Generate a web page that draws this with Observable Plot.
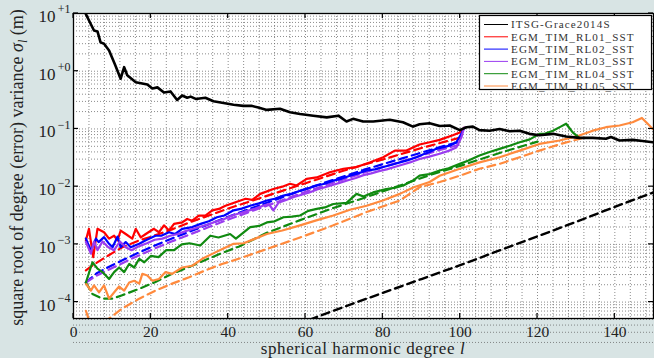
<!DOCTYPE html>
<html><head><meta charset="utf-8">
<script src="https://cdn.jsdelivr.net/npm/d3@7"></script>
<script src="https://cdn.jsdelivr.net/npm/@observablehq/plot@0.6"></script>
<style>
html,body{margin:0;padding:0;background:#d8e4e4;overflow:hidden}
#chart svg{display:block}
</style></head><body><div id="chart"></div>
<script>
// degree l, log10(sigma_l [m])
const itsgSolid = [[2.5,1.1],[3.2,0.99],[4.3,0.84],[5.3,0.705],[6.2,0.69],[7.0,0.50],[7.9,0.475],[9.2,0.36],[10.7,0.12],[12.2,-0.13],[13.1,0.07],[13.9,-0.07],[16.1,-0.19],[19.1,-0.23],[20.4,-0.30],[21.7,-0.28],[23.4,-0.37],[25.1,-0.35],[26.8,-0.50],[28.1,-0.42],[29.4,-0.46],[30.3,-0.44],[31.6,-0.48],[34.1,-0.46],[36.2,-0.52],[38.8,-0.55],[41.4,-0.58],[43.9,-0.60],[46,-0.60],[47.8,-0.63],[50,-0.67],[53.4,-0.65],[56,-0.71],[58.6,-0.74],[62,-0.77],[65.5,-0.80],[68.5,-0.77],[70.6,-0.87],[72.3,-0.825],[74.9,-0.87],[77.5,-0.87],[81.8,-0.84],[85.2,-0.885],[87.8,-0.96],[89.5,-0.92],[92.1,-0.90],[94.7,-0.95],[97.3,-0.94],[99.9,-1.02],[101.6,-0.97],[103.3,-0.96],[105,-1.02],[107.6,-1.03],[110.2,-1.0],[112.8,-1.04],[115.4,-1.03],[117.9,-1.085],[120.5,-1.11],[124,-1.085],[127.4,-1.13],[130.8,-1.155],[134.3,-1.155],[137.7,-1.17],[139,-1.14],[141.2,-1.2],[144.6,-1.19],[147.2,-1.21],[149.8,-1.23]];
const itsgDashed = [[58,-4.40],[62,-4.28],[70,-4.08],[80,-3.84],[90,-3.60],[100,-3.36],[110,-3.11],[120,-2.86],[130,-2.61],[140,-2.35],[150,-2.10]];

const rl01Solid = [[3.2,-2.93],[4.0,-2.73],[5.1,-3.22],[6.2,-2.73],[7.9,-2.79],[9.2,-2.90],[10.5,-2.85],[11.4,-2.93],[12.2,-2.76],[13.5,-2.82],[15.2,-2.90],[16.1,-2.73],[17.4,-2.88],[18.7,-2.82],[20.8,-2.73],[22.1,-2.79],[23.4,-2.67],[24.7,-2.76],[26,-2.645],[28.1,-2.62],[29.4,-2.56],[30.7,-2.59],[32.4,-2.50],[34.1,-2.50],[35.9,-2.41],[37.6,-2.385],[39.3,-2.33],[41.9,-2.27],[44.5,-2.21],[46.2,-2.23],[48.3,-2.125],[51.7,-2.04],[54,-2.0],[56,-1.95],[57.7,-1.98],[60.3,-1.865],[62.9,-1.84],[66.3,-1.75],[69.8,-1.69],[73.2,-1.66],[76.6,-1.58],[80.1,-1.49],[83.1,-1.375],[86.1,-1.375],[89.5,-1.27],[92.1,-1.23],[94.7,-1.19],[98.1,-1.11],[99.9,-1.06],[101,-0.98]];
const rl01Dashed = [[3.2,-3.45],[5,-3.36],[8.3,-3.22],[12.6,-3.05],[17,-2.93],[20,-2.87],[25.5,-2.74],[30,-2.62],[35,-2.50],[40,-2.38],[45,-2.27],[50,-2.16],[55,-2.05],[60,-1.94],[65,-1.83],[70,-1.72],[75,-1.62],[80,-1.53],[85,-1.43],[90,-1.33],[95,-1.24],[100,-1.15]];

const rl02Solid = [[3.2,-2.90],[4.5,-3.11],[5.8,-2.90],[6.5,-2.96],[7.9,-2.875],[9.2,-2.99],[10.1,-3.05],[11.4,-2.865],[12.2,-3.05],[13.5,-2.96],[14.8,-3.05],[17,-2.99],[18.7,-2.93],[21.2,-2.85],[22.7,-2.85],[24.7,-2.79],[26.3,-2.82],[28.1,-2.73],[30.7,-2.70],[32.9,-2.645],[35,-2.6],[37.1,-2.53],[39,-2.50],[41.4,-2.41],[43.5,-2.38],[45.7,-2.33],[48,-2.29],[50,-2.24],[52,-2.21],[54.3,-2.155],[56.5,-2.12],[58.6,-2.07],[60.7,-2.03],[62.9,-1.98],[65,-1.95],[67.2,-1.895],[69.4,-1.86],[71.5,-1.81],[73.6,-1.77],[75.8,-1.72],[78,-1.70],[80.1,-1.66],[82.3,-1.62],[84.4,-1.58],[86.5,-1.54],[88.7,-1.49],[90.5,-1.44],[92.1,-1.40],[93.8,-1.345],[95.5,-1.32],[97.3,-1.29],[99,-1.23],[100.3,-1.085],[101,-0.98]];
const rl02Dashed = [[3.2,-3.66],[6,-3.50],[10,-3.36],[15,-3.20],[20,-3.05],[25,-2.91],[30,-2.78],[35,-2.65],[40,-2.52],[45,-2.40],[50,-2.28],[55,-2.16],[60,-2.04],[65,-1.93],[70,-1.82],[75,-1.71],[80,-1.61],[85,-1.51],[90,-1.41],[95,-1.31],[100,-1.22]];

const rl03Solid = [[3.2,-2.96],[4.5,-3.16],[5.3,-2.95],[6.2,-3.1],[7.5,-2.95],[9,-3.05],[10.5,-3.1],[12,-2.95],[13.5,-3.05],[15,-3.1],[17,-3.03],[19,-2.98],[21,-2.92],[23,-2.90],[25,-2.85],[27,-2.82],[29,-2.77],[31,-2.73],[33,-2.69],[35,-2.65],[37,-2.60],[39,-2.56],[41,-2.50],[43,-2.46],[45,-2.42],[47,-2.38],[49,-2.33],[50.5,-2.30],[51.7,-2.41],[53,-2.28],[55,-2.23],[57,-2.18],[59,-2.14],[61,-2.10],[63,-2.05],[65,-2.01],[67,-1.97],[69,-1.93],[71,-1.89],[73,-1.85],[75,-1.80],[77,-1.77],[79,-1.73],[81,-1.70],[83,-1.66],[85,-1.62],[87,-1.58],[89.5,-1.52],[92,-1.48],[94.7,-1.43],[97,-1.38],[99,-1.32],[100.3,-1.15],[101,-0.98]];
const rl03Dashed = [[3.2,-3.66],[6,-3.54],[10,-3.41],[15,-3.25],[20,-3.10],[25,-2.96],[30,-2.83],[35,-2.70],[40,-2.57],[45,-2.45],[50,-2.33],[55,-2.21],[60,-2.09],[65,-1.98],[70,-1.87],[75,-1.76],[80,-1.66],[85,-1.56],[90,-1.46],[95,-1.36],[100,-1.27]];

const rl04Solid = [[3.2,-3.66],[4.9,-3.31],[6.2,-3.42],[7.5,-3.48],[9.2,-3.60],[10.5,-3.48],[11.8,-3.40],[13.1,-3.48],[14.4,-3.34],[15.7,-3.40],[17,-3.25],[18.3,-3.31],[20,-3.2],[22,-3.22],[24,-3.1],[26,-3.1],[28,-3.0],[30,-2.98],[32.8,-3.02],[35.4,-2.85],[37.5,-2.88],[40.5,-2.82],[42,-2.9],[45.7,-2.70],[48,-2.68],[50,-2.62],[52,-2.60],[54.3,-2.53],[56.5,-2.52],[58.6,-2.50],[60.7,-2.42],[62.9,-2.385],[65,-2.36],[67.2,-2.30],[70.6,-2.28],[73.2,-2.125],[75,-2.17],[77.5,-2.10],[80.9,-2.04],[83,-2.02],[85.3,-1.98],[87.8,-1.895],[89.5,-1.81],[92.1,-1.78],[94.7,-1.72],[97,-1.68],[99.9,-1.605],[102,-1.55],[105,-1.46],[107.6,-1.40],[110.2,-1.345],[112.8,-1.29],[115.4,-1.23],[118,-1.18],[120.5,-1.085],[122,-1.08],[124,-1.03],[126,-0.96],[127.4,-0.91],[128.2,-0.98],[129.1,-1.06],[130.8,-1.155]];
const rl04Dashed = [[3.2,-3.66],[4.9,-3.86],[7.5,-3.94],[10.1,-3.94],[12.6,-3.88],[17,-3.77],[21.2,-3.65],[25.5,-3.51],[29.9,-3.39],[34.1,-3.27],[38.4,-3.15],[42.7,-3.04],[50,-2.80],[58.6,-2.58],[67.2,-2.37],[75.8,-2.18],[84.4,-1.98],[92.1,-1.80],[100,-1.64],[110,-1.42],[120,-1.22]];

const rl05Solid = [[3.2,-3.68],[4.5,-3.80],[5.3,-3.71],[6.6,-3.83],[7.9,-3.71],[9.2,-3.94],[10.9,-3.80],[11.8,-3.73],[13.1,-3.80],[14.4,-3.66],[15.7,-3.63],[17,-3.68],[17.8,-3.51],[19.1,-3.54],[20.4,-3.63],[22.1,-3.60],[23.8,-3.48],[25.5,-3.51],[28.1,-3.40],[30.7,-3.37],[33.3,-3.25],[36,-3.16],[38.5,-3.08],[41.4,-2.99],[44,-2.98],[47,-2.90],[50,-2.82],[54,-2.76],[58.6,-2.67],[63,-2.58],[67.2,-2.50],[71.5,-2.40],[75.8,-2.33],[80,-2.24],[84.4,-2.125],[88,-2.01],[92.1,-1.92],[94.7,-1.81],[99.9,-1.69],[105,-1.58],[110.2,-1.49],[115.4,-1.375],[120.5,-1.26],[125.7,-1.20],[130.8,-1.115],[134.3,-1.03],[137.7,-0.97],[141.2,-0.94],[144.6,-0.885],[147,-0.81],[148.5,-0.91],[149.8,-1.0]];
const rl05Dashed = [[3.2,-4.15],[4.2,-4.35],[8.3,-4.33],[12.6,-4.11],[17,-3.94],[21.2,-3.80],[25.5,-3.68],[29.9,-3.57],[34.1,-3.45],[38.4,-3.34],[42.7,-3.25],[50,-3.08],[58.6,-2.88],[67.2,-2.67],[75.8,-2.44],[84.4,-2.24],[89.5,-2.01],[94.7,-1.92],[99.9,-1.81],[105,-1.69],[110.2,-1.605],[115.4,-1.49],[120.5,-1.375],[126,-1.26],[132,-1.15]];

const seriesNames = ["ITSG-Grace2014S","EGM_TIM_RL01_SST","EGM_TIM_RL02_SST","EGM_TIM_RL03_SST","EGM_TIM_RL04_SST","EGM_TIM_RL05_SST"];
const seriesColors = ["#000000","#ff0000","#0000ff","#9a3cf0","#108a10","#ff8a3d"];
const solidData = [itsgSolid, rl01Solid, rl02Solid, rl03Solid, rl04Solid, rl05Solid];
const dashedData = [itsgDashed, rl01Dashed, rl02Dashed, rl03Dashed, rl04Dashed, rl05Dashed];

const xTicks = [0,20,40,60,80,100,120,140];
const yTicks = [1e1,1e0,1e-1,1e-2,1e-3,1e-4];
const yTickExp = ["+1","+0","\u22121","\u22122","\u22123","\u22124"];

const yMinor = [];
for (let k = -5; k <= 0; k++) for (let m = 2; m <= 9; m++) yMinor.push(m * 10 ** k);
const xGrid = d3.range(4, 150, 4);

const lineMarks = [];
[4,5,1,2,3].forEach(i => {
  lineMarks.push(Plot.line(dashedData[i], {x: d => d[0], y: d => 10 ** d[1], stroke: seriesColors[i], strokeWidth: 2.2, strokeDasharray: "8,5", clip: true}));
});
[5,4,1,2,3].forEach(i => {
  lineMarks.push(Plot.line(solidData[i], {x: d => d[0], y: d => 10 ** d[1], stroke: seriesColors[i], strokeWidth: 2.2, clip: true}));
});
lineMarks.push(Plot.line(dashedData[0], {x: d => d[0], y: d => 10 ** d[1], stroke: "#000", strokeWidth: 2.4, strokeDasharray: "8,5", clip: true}));
lineMarks.push(Plot.line(solidData[0], {x: d => d[0], y: d => 10 ** d[1], stroke: "#000", strokeWidth: 2.6, clip: true}));

const fontFam = "'Liberation Serif', 'Times New Roman', serif";
const plot = Plot.plot({
  width: 654, height: 358,
  marginLeft: 73, marginRight: 1, marginTop: 13, marginBottom: 40,
  style: {background: "#d8e4e4", fontFamily: fontFam, color: "#222", overflow: "visible"},
  x: {domain: [0, 150]},
  y: {type: "log", domain: [5.2e-5, 10]},
  marks: [
    Plot.frame({fill: "white"}),
    Plot.gridX(xGrid, {stroke: "#666", strokeOpacity: 0.75, strokeDasharray: "1,2"}),
    Plot.gridY(yMinor, {stroke: "#666", strokeOpacity: 0.75, strokeDasharray: "1,2"}),
    Plot.gridY(yTicks, {stroke: "#666", strokeOpacity: 0.75, strokeDasharray: "1,2"}),
    ...lineMarks,
    Plot.frame({stroke: "black", strokeWidth: 1.3}),
    Plot.axisX(xTicks, {tickSize: 0, tickPadding: 7, fontSize: 15.5, label: null, tickFormat: d => String(d)}),
    Plot.axisY({ticks: [], label: null, tickSize: 0}),
    Plot.text(yTicks, {y: d => d, frameAnchor: "left", text: () => "10", dx: -18, dy: 3, textAnchor: "end", fontSize: 17, fill: "#222"}),
    Plot.text(yTicks, {y: d => d, frameAnchor: "left", text: (d, i) => yTickExp[i], dx: -3, dy: -4, textAnchor: "end", fontSize: 12, fill: "#222"})
  ]
});
document.getElementById("chart").appendChild(plot);

// inward ticks, via the plot's own scales
const svg = d3.select(plot);
const sx = plot.scale("x"), sy = plot.scale("y");
const x0 = sx.range[0], x1 = sx.range[1], yb = sy.range[0], yt = sy.range[1];
const tg = svg.append("g").attr("stroke", "black").attr("stroke-width", 1.2);
xTicks.forEach(v => {
  const px = sx.apply(v);
  tg.append("line").attr("x1", px).attr("x2", px).attr("y1", yb).attr("y2", yb - 5);
  tg.append("line").attr("x1", px).attr("x2", px).attr("y1", yt).attr("y2", yt + 5);
});
yTicks.forEach(v => {
  const py = sy.apply(v);
  tg.append("line").attr("x1", x0).attr("x2", x0 + 5).attr("y1", py).attr("y2", py);
  tg.append("line").attr("x1", x1).attr("x2", x1 - 5).attr("y1", py).attr("y2", py);
});

// axis titles
const xt = svg.append("text").attr("x", (x0 + x1) / 2).attr("y", 354.3).attr("text-anchor", "middle")
  .attr("font-size", 17).attr("letter-spacing", 0.6).attr("fill", "#222").attr("font-family", fontFam);
xt.append("tspan").text("spherical harmonic degree ");
xt.append("tspan").attr("font-style", "italic").text("l");
const yt2 = svg.append("text").attr("transform", `translate(23,${(yb + yt) / 2 + 2}) rotate(-90)`).attr("text-anchor", "middle")
  .attr("font-size", 18).attr("fill", "#222").attr("font-family", fontFam);
yt2.append("tspan").text("square root of degree (error) variance ");
yt2.append("tspan").attr("font-style", "italic").text("\u03c3");
yt2.append("tspan").attr("font-style", "italic").attr("font-size", 12).attr("dy", 4).text("l");
yt2.append("tspan").attr("dy", -4).text(" (m)");

// legend
const lg = svg.append("g").attr("font-family", fontFam).attr("text-anchor", "start");
lg.append("rect").attr("x", 479.5).attr("y", 15.5).attr("width", 172).attr("height", 74).attr("fill", "white").attr("stroke", "black").attr("stroke-width", 1.2);
seriesNames.forEach((n, i) => {
  const cy = 24.5 + i * 12.3;
  lg.append("line").attr("x1", 484).attr("x2", 508).attr("y1", cy).attr("y2", cy).attr("stroke", seriesColors[i]).attr("stroke-width", 1);
  lg.append("text").attr("x", 511).attr("y", cy + 3.8).attr("font-size", 11.1).attr("letter-spacing", 1.1).attr("fill", "#333").attr("text-anchor", "start").text(n);
});
</script></body></html>
